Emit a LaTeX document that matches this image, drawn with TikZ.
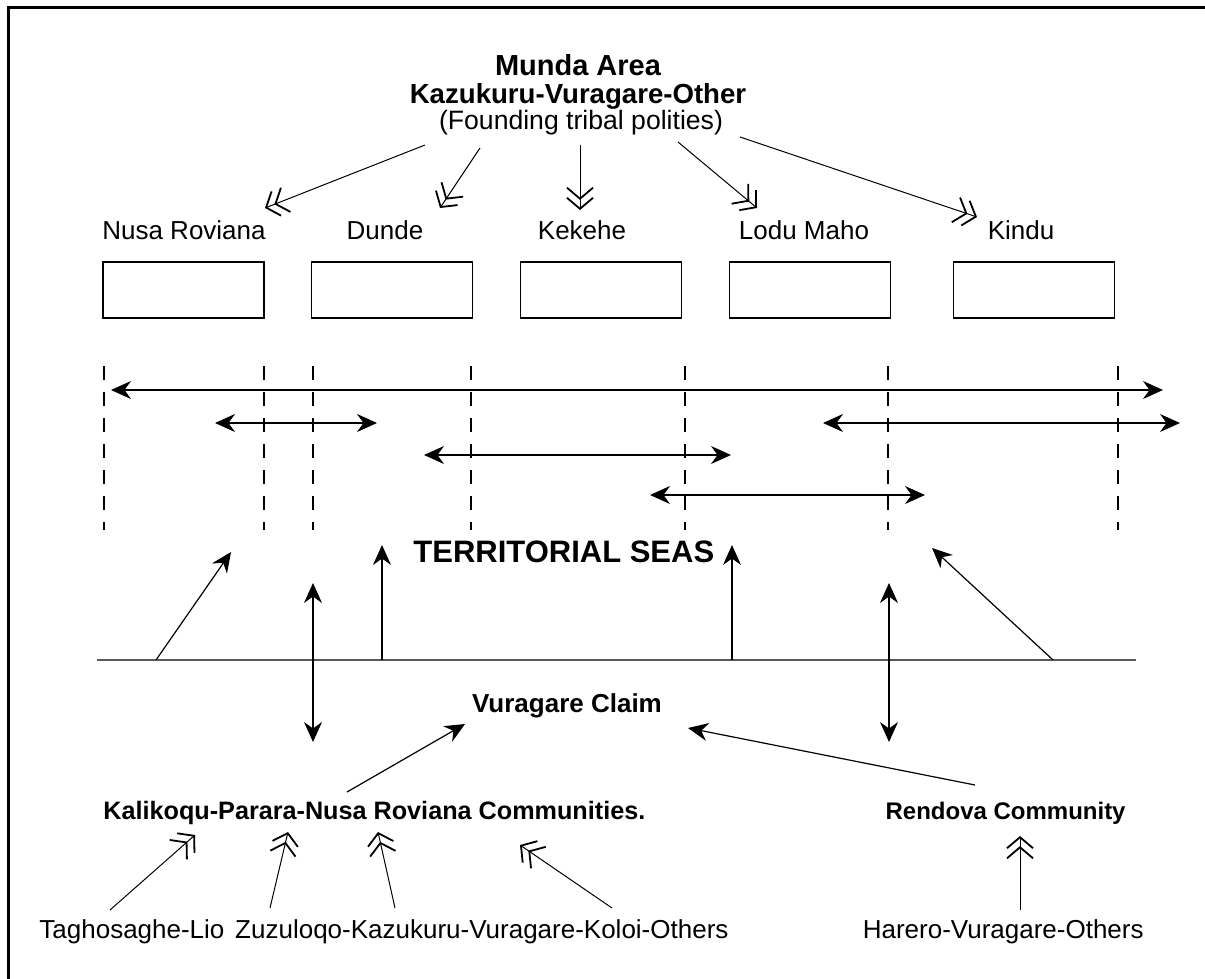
\documentclass[tikz,border=0pt]{standalone}
\usepackage{fontspec}
\setmainfont{Liberation Sans}
\usetikzlibrary{arrows.meta}

\begin{document}
\begin{tikzpicture}[x=0.5pt,y=-0.5pt,
  lbl/.style={font=\fontsize{13}{15}\selectfont,inner sep=1pt},
  ttl/.style={font=\bfseries\fontsize{13}{15}\selectfont,inner sep=1pt},
  pbox/.style={draw,line width=0.8pt,minimum width=80.5pt,minimum height=28pt,inner sep=0pt},
  sea/.style={line width=1.3pt,dash pattern=on 7pt off 6pt},
  reach/.style={line width=0.6pt,{Stealth[length=10pt,width=9pt]}-{Stealth[length=10pt,width=9pt]}},
  claim/.style={line width=0.6pt,-{Stealth[length=10pt,width=9pt]}},
  link/.style={line width=0.5pt,-{Straight Barb[length=5.5pt,width=13pt,line width=0.9pt,sep=-1.5pt]Straight Barb[length=5.5pt,width=13pt,line width=0.9pt]}}]

  \useasboundingbox (0,0) rectangle (1205,979);
  \draw[line width=1.5pt] (8,979) -- (8,8) -- (1205,8);

  % founding polities
  \node[ttl,font=\bfseries\fontsize{14.5}{17}\selectfont,inner sep=0pt] (munda) at (578,65) {Munda Area};
  \node[ttl,font=\bfseries\fontsize{13.8}{16}\selectfont,inner sep=0pt] (kazu) at (578,96) {Kazukuru-Vuragare-Other};
  \node[lbl,font=\fontsize{13.3}{15}\selectfont,inner sep=0pt] (found) at (581,123) {(Founding tribal polities)};

  \node[lbl] (nusa) at (184,230) {Nusa Roviana};
  \node[lbl] (dunde) at (385,230) {Dunde};
  \node[lbl] (kekehe) at (582,230) {Kekehe};
  \node[lbl] (lodu) at (804,230) {Lodu Maho};
  \node[lbl] (kindu) at (1021,230) {Kindu};

  \node[pbox] (b1) at (183.5,290) {};
  \node[pbox] (b2) at (392,290) {};
  \node[pbox] (b3) at (601,290) {};
  \node[pbox] (b4) at (810,290) {};
  \node[pbox] (b5) at (1034,290) {};

  \coordinate (f1) at (425,145);
  \coordinate (f2) at (480,148);
  \coordinate (f3) at (580,145);
  \coordinate (f4) at (678,142);
  \coordinate (f5) at (740,137);
  \draw[link] (f1) -- (265,208);
  \draw[link] (f2) -- (440,208);
  \draw[link] (f3) -- (580,210);
  \draw[link] (f4) -- (757,208);
  \draw[link] (f5) -- (977,217);

  % sea limits
  \foreach \x in {104,264,313,471,685,888,1118}
    \draw[sea] (\x,366) -- (\x,530);

  \foreach \n/\xa/\xb/\y in {1/111/1163/390, 2/215/377/423, 3/823/1180/423,
                             4/424/731/455, 5/650/925/495} {
    \coordinate (r\n a) at (\xa,\y);
    \coordinate (r\n b) at (\xb,\y);
    \draw[reach] (r\n a) -- (r\n b);
  }

  \node[ttl,font=\bfseries\fontsize{15.5}{18}\selectfont,anchor=west] (seas) at (411,552) {TERRITORIAL SEAS};

  % claim line
  \coordinate (cl) at (97,660);
  \coordinate (cr) at (1136,660);
  \draw[line width=0.6pt,gray!70!black] (cl) -- (cr);

  \coordinate (s1) at (156,660);
  \coordinate (s2) at (382,660);
  \coordinate (s3) at (732,660);
  \coordinate (s4) at (1053,660);
  \draw[claim] (s1) -- (231,552);
  \draw[claim] (s2) -- (382,545);
  \draw[claim] (s3) -- (732,545);
  \draw[claim] (s4) -- (932,548);

  \coordinate (d1a) at (313,583);
  \coordinate (d1b) at (313,742);
  \coordinate (d2a) at (889,583);
  \coordinate (d2b) at (889,742);
  \draw[reach] (d1a) -- (d1b);
  \draw[reach] (d2a) -- (d2b);

  \node[ttl] (claim) at (567,706) {Vuragare Claim};

  % communities
  \node[ttl,font=\bfseries\fontsize{12.6}{15}\selectfont,anchor=west] (kali) at (101,813) {Kalikoqu-Parara-Nusa Roviana Communities.};
  \node[ttl,font=\bfseries\fontsize{12}{15}\selectfont,anchor=east] (rend) at (1128,813) {Rendova Community};
  \draw[claim] (347,792) -- (465,724);
  \draw[claim] (975,785) -- (688,728);

  \node[lbl,anchor=west] (tagh) at (37,932) {Taghosaghe-Lio};
  \node[lbl,anchor=west] (zuzu) at ([xshift=3]tagh.east) {Zuzuloqo-Kazukuru-Vuragare-Koloi-Others};
  \node[lbl,anchor=east] (hare) at (1146,932) {Harero-Vuragare-Others};

  \draw[link] (110,910) -- (195,835);
  \draw[link] (270,908) -- (288,832);
  \draw[link] (395,908) -- (378,832);
  \draw[link] (612,908) -- (520,845);
  \draw[link] (1020,910) -- (1020,836);

\end{tikzpicture}
\end{document}
